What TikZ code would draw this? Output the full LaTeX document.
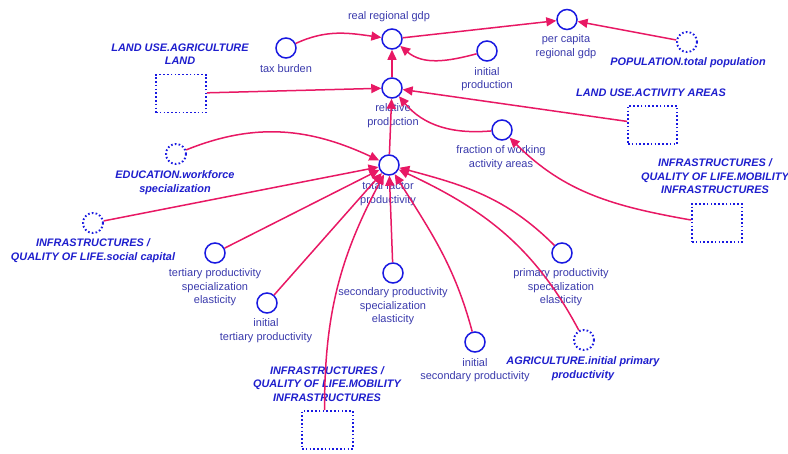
\documentclass[tikz,border=0pt]{standalone}
\usepackage{fontspec}
\setmainfont{Liberation Sans}
\usetikzlibrary{arrows.meta}
\definecolor{linkpink}{RGB}{232,24,100}
\definecolor{varblue}{RGB}{25,25,225}
\definecolor{txtblue}{RGB}{58,58,172}
\definecolor{refblue}{RGB}{30,30,205}

\begin{document}
\begin{tikzpicture}[x=1pt,y=1pt,
  var/.style={circle,draw=varblue,line width=1.5pt,fill=white,minimum size=20pt,inner sep=0pt},
  shadowvar/.style={circle,draw=varblue,line width=1.9pt,dash pattern=on 1.6pt off 2.2pt,fill=white,minimum size=20pt,inner sep=0pt},
  sector/.style={draw=varblue,line width=1.9pt,dash pattern=on 1.6pt off 2.2pt,minimum width=50pt,minimum height=38pt,inner sep=0pt},
  lbl/.style={text=txtblue,font=\fontsize{11}{13.5}\selectfont,align=center,inner sep=0pt},
  xlbl/.style={text=refblue,font=\fontsize{10.9}{13.5}\selectfont\bfseries\itshape,align=center,inner sep=0pt},
  link/.style={draw=linkpink,line width=1.5pt,-{Triangle[length=10pt,width=9pt]}},
]
\useasboundingbox (0,0) rectangle (788,-453);

% labels
\node[lbl] (rrgdp-l) at (389,-17) {real regional gdp};
\node[lbl] (pcgdp-l) at (566,-46.5) {per capita\\regional gdp};
\node[lbl] (tax-l) at (286,-68.5) {tax burden};
\node[lbl] (iprod-l) at (487,-79) {initial\\production};
\node[xlbl] (pop-l) at (688,-63) {POPULATION.total population};
\node[xlbl] (agland-l) at (180,-54) {LAND USE.AGRICULTURE\\LAND};
\node[lbl] (relprod-l) at (393,-115.5) {relative\\production};
\node[xlbl] (actareas-l) at (651,-93) {LAND USE.ACTIVITY AREAS};
\node[lbl] (fwaa-l) at (501,-157.5) {fraction of working\\activity areas};
\node[xlbl] (infraR-l) at (715,-176.5) {INFRASTRUCTURES /\\QUALITY OF LIFE.MOBILITY\\INFRASTRUCTURES};
\node[xlbl] (edu-l) at (175,-182.5) {EDUCATION.workforce\\specialization};
\node[lbl] (tfp-l) at (388,-193.5) {total factor\\productivity};
\node[xlbl] (socap-l) at (93,-250.5) {INFRASTRUCTURES /\\QUALITY OF LIFE.social capital};
\node[lbl] (tse-l) at (215,-287.5) {tertiary productivity\\specialization\\elasticity};
\node[lbl] (itp-l) at (266,-330.5) {initial\\tertiary productivity};
\node[lbl] (sse-l) at (393,-306.5) {secondary productivity\\specialization\\elasticity};
\node[lbl] (isp-l) at (475,-370) {initial\\secondary productivity};
\node[lbl] (pse-l) at (561,-287.5) {primary productivity\\specialization\\elasticity};
\node[xlbl] (agip-l) at (583,-368.5) {AGRICULTURE.initial primary\\productivity};
\node[xlbl] (infraB-l) at (327,-384) {INFRASTRUCTURES /\\QUALITY OF LIFE.MOBILITY\\INFRASTRUCTURES};

% variables
\node[var] (rrgdp) at (392,-39) {};
\node[var] (pcgdp) at (567,-19.5) {};
\node[var] (tax) at (286,-48) {};
\node[var] (iprod) at (487,-51) {};
\node[shadowvar] (pop) at (687,-42) {};
\node[var] (relprod) at (392,-88) {};
\node[var] (fwaa) at (502,-130) {};
\node[shadowvar] (edu) at (176,-154) {};
\node[var] (tfp) at (389,-165) {};
\node[shadowvar] (socap) at (93,-223) {};
\node[var] (tse) at (215,-253) {};
\node[var] (itp) at (267,-303) {};
\node[var] (sse) at (393,-273) {};
\node[var] (isp) at (475,-342) {};
\node[var] (pse) at (562,-253) {};
\node[shadowvar] (agip) at (584,-340) {};

% sector boxes
\node[sector] (agland) at (181,-93.5) {};
\node[sector,minimum width=49pt] (actareas) at (652.5,-125) {};
\node[sector] (infraR) at (717,-223) {};
\node[sector,minimum width=51pt] (infraB) at (327.5,-430) {};

% links
\draw[link] (tax) to[out=25,in=172] (rrgdp);
\draw[link] (rrgdp) -- (pcgdp);
\draw[link] (pop) -- (pcgdp);
\draw[link] (iprod) to[out=195,in=-40] (rrgdp);
\draw[link] (relprod) -- (rrgdp);
\draw[link] (agland) -- (relprod);
\draw[link] (actareas) -- (relprod);
\draw[link] (fwaa) to[out=185,in=-50] (relprod);
\draw[link] ([yshift=3pt]infraR.west) to[out=170,in=-45] (fwaa);
\draw[link] (tfp) -- (relprod);
\draw[link] (edu) to[out=22,in=155] (tfp);
\draw[link] (socap) -- (tfp);
\draw[link] (tse) -- (tfp);
\draw[link] (itp) -- (tfp);
\draw[link] ([xshift=-3pt]infraB.north) to[out=90,in=-118] (tfp);
\draw[link] (sse) -- (tfp);
\draw[link] (isp) to[out=105,in=-58] (tfp);
\draw[link] (agip) to[out=118,in=-25] (tfp);
\draw[link] (pse) to[out=135,in=-15] (tfp);
\end{tikzpicture}
\end{document}
